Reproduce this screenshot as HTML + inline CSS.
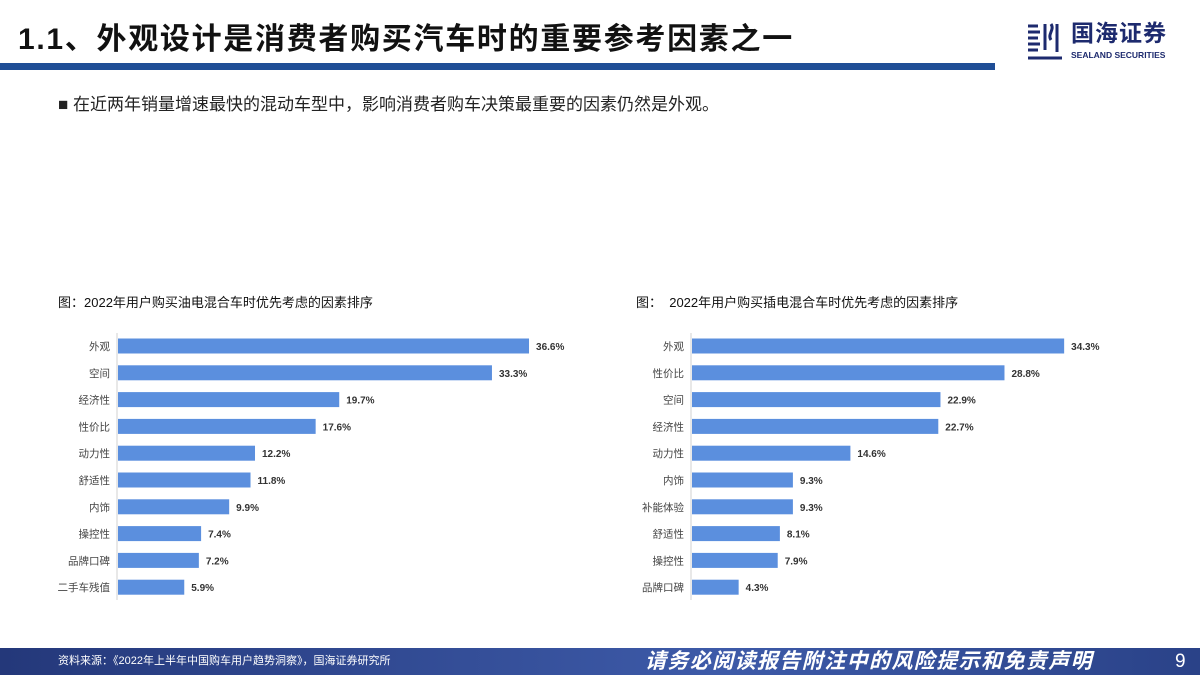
<!DOCTYPE html>
<html><head><meta charset="utf-8">
<style>
body{margin:0;width:1200px;height:675px;overflow:hidden;background:#fff;font-family:"Liberation Sans","Noto Sans CJK SC",sans-serif;position:relative}
.abs{position:absolute}
</style></head><body>
<div class="abs" style="left:18px;top:14px;font-size:30px;font-weight:bold;color:#111;letter-spacing:1.7px;white-space:nowrap">1.1、外观设计是消费者购买汽车时的重要参考因素之一</div>
<div class="abs" style="left:0;top:63px;width:995px;height:7px;background:#1f4e96"></div>
<div class="abs" style="left:1025px;top:18px;width:165px;height:45px">
<svg width="40" height="42" style="position:absolute;left:0;top:2px"><g stroke="#1d2a6e" stroke-width="3" fill="none"><path d="M3 6h10M3 12h12M3 18h10M3 24h12M3 30h10M3 38h34M20 4v26M26 4c4 6-4 10 0 16M32 4v28"/></g></svg>
<div class="abs" style="left:46px;top:2px;font-size:23px;line-height:26px;font-weight:bold;color:#1d2a6e;white-space:nowrap;letter-spacing:1px">国海证券</div>
<div class="abs" style="left:46px;top:32px;font-size:8.5px;font-weight:bold;color:#1d2a6e;white-space:nowrap">SEALAND SECURITIES</div>
</div>
<div class="abs" style="left:58px;top:90px;font-size:17px;color:#222;white-space:nowrap">■ 在近两年销量增速最快的混动车型中，影响消费者购车决策最重要的因素仍然是外观。</div>
<div class="abs" style="left:58px;top:292px;font-size:13px;color:#111;white-space:nowrap">图：2022年用户购买油电混合车时优先考虑的因素排序</div>
<div class="abs" style="left:636px;top:292px;font-size:13px;color:#111;white-space:nowrap">图：&nbsp;&nbsp;2022年用户购买插电混合车时优先考虑的因素排序</div>
<svg id="charts" class="abs" style="left:0;top:0" width="1200" height="675"></svg>
<div class="abs" style="left:0;top:648px;width:1200px;height:27px;background:linear-gradient(90deg,#24387a,#3d5aa8 60%,#2a4288)"></div>
<div class="abs" style="left:58px;top:648px;line-height:27px;font-size:11px;color:#fff;white-space:nowrap">资料来源：《2022年上半年中国购车用户趋势洞察》，国海证券研究所</div>
<div class="abs" style="left:645px;top:648px;line-height:28px;font-size:21px;letter-spacing:1.4px;font-style:italic;font-weight:bold;color:#fff;white-space:nowrap">请务必阅读报告附注中的风险提示和免责声明</div>
<div class="abs" style="left:1175px;top:648px;line-height:28px;font-size:19px;color:#fff">9</div>
<script>
const leftCats=["外观","空间","经济性","性价比","动力性","舒适性","内饰","操控性","品牌口碑","二手车残值"];
const leftVals=[36.6,33.3,19.7,17.6,12.2,11.8,9.9,7.4,7.2,5.9];
const rightCats=["外观","性价比","空间","经济性","动力性","内饰","补能体验","舒适性","操控性","品牌口碑"];
const rightVals=[34.3,28.8,22.9,22.7,14.6,9.3,9.3,8.1,7.9,4.3];
const svg=document.getElementById('charts');
const NS='http://www.w3.org/2000/svg';
function draw(cats,vals,x0,scale,prefix){
  const y=i=>346+i*26.8;
  const ax=document.createElementNS(NS,'line');
  
  
  ax.setAttribute('x1',x0);ax.setAttribute('x2',x0);ax.setAttribute('y1',333);ax.setAttribute('y2',600);
  ax.setAttribute('stroke','#d0d0d0');svg.appendChild(ax);
  cats.forEach((c,i)=>{
    const w=vals[i]*scale;
    const r=document.createElementNS(NS,'rect');
    
    
    r.setAttribute('x',x0+1);r.setAttribute('y',y(i)-7.5);r.setAttribute('width',w);r.setAttribute('height',15);
    r.setAttribute('fill','#5b8fde');svg.appendChild(r);
    const t=document.createElementNS(NS,'text');
    
    
    t.setAttribute('x',x0-7);t.setAttribute('y',y(i)+4);t.setAttribute('text-anchor','end');
    t.setAttribute('font-size','10.5');t.setAttribute('fill','#444');t.textContent=c;svg.appendChild(t);
    const v=document.createElementNS(NS,'text');
    
    
    v.setAttribute('x',x0+w+8);v.setAttribute('y',y(i)+4);
    v.setAttribute('font-size','10');v.setAttribute('font-weight','bold');v.setAttribute('fill','#333');
    v.textContent=vals[i].toFixed(1)+'%';svg.appendChild(v);
  });
}
draw(leftCats,leftVals,117,11.23,'left');
draw(rightCats,rightVals,691,10.85,'right');
</script>
</body></html>
